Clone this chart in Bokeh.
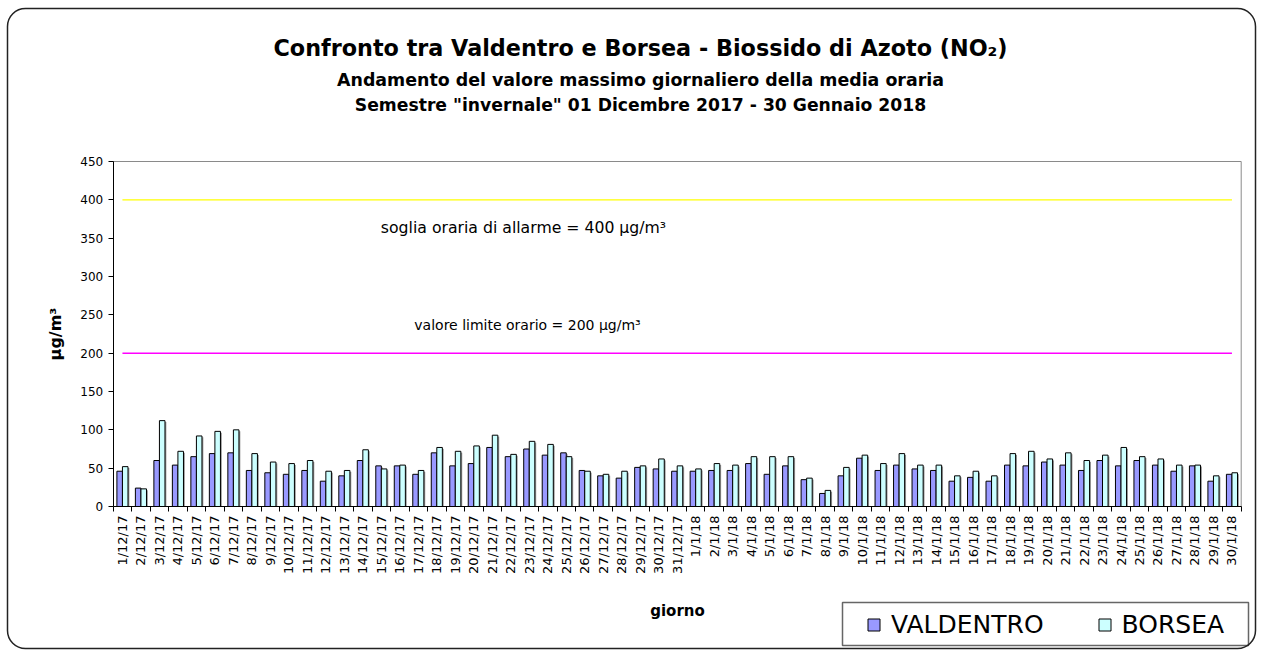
import numpy as np
from bokeh.plotting import figure
from bokeh.models import (Range1d, FixedTicker, Legend, LegendItem, Label,
                          ColumnDataSource, BoxAnnotation)
from bokeh.transform import dodge
from bokeh.embed import file_html
from bokeh.resources import INLINE

# ---------------- data ----------------
giorni = ["1/12/17", "2/12/17", "3/12/17", "4/12/17", "5/12/17", "6/12/17", "7/12/17",
          "8/12/17", "9/12/17", "10/12/17", "11/12/17", "12/12/17", "13/12/17", "14/12/17",
          "15/12/17", "16/12/17", "17/12/17", "18/12/17", "19/12/17", "20/12/17", "21/12/17",
          "22/12/17", "23/12/17", "24/12/17", "25/12/17", "26/12/17", "27/12/17", "28/12/17",
          "29/12/17", "30/12/17", "31/12/17",
          "1/1/18", "2/1/18", "3/1/18", "4/1/18", "5/1/18", "6/1/18", "7/1/18", "8/1/18",
          "9/1/18", "10/1/18", "11/1/18", "12/1/18", "13/1/18", "14/1/18", "15/1/18",
          "16/1/18", "17/1/18", "18/1/18", "19/1/18", "20/1/18", "21/1/18", "22/1/18",
          "23/1/18", "24/1/18", "25/1/18", "26/1/18", "27/1/18", "28/1/18", "29/1/18",
          "30/1/18"]

valdentro = [46, 24, 60, 54, 65, 69, 70, 47, 44, 42, 47, 33, 40, 60, 53, 53, 42, 70, 53, 56,
             77, 65, 75, 67, 70, 47, 40, 37, 51, 49, 46,
             46, 47, 47, 56, 42, 53, 35, 17, 40, 63, 47, 54, 49, 47, 33, 38, 33, 54, 53,
             58, 54, 47, 60, 53, 60, 54, 46, 53, 33, 42]

borsea = [52, 23, 112, 72, 92, 98, 100, 69, 58, 56, 60, 46, 47, 74, 49, 54, 47, 77, 72, 79,
          93, 68, 85, 81, 65, 46, 42, 46, 53, 62, 53,
          49, 56, 54, 65, 65, 65, 37, 21, 51, 67, 56, 69, 54, 54, 40, 46, 40, 69, 72,
          62, 70, 60, 67, 77, 65, 62, 54, 54, 40, 44]

soglia_allarme = 400
valore_limite = 200
y_ticks = [0, 50, 100, 150, 200, 250, 300, 350, 400, 450]

titolo = "Confronto tra Valdentro e Borsea - Biossido di Azoto (NO₂)"
sottotitolo1 = "Andamento del valore massimo giornaliero della media oraria"
sottotitolo2 = 'Semestre "invernale" 01 Dicembre 2017 - 30 Gennaio 2018'

FONT = "DejaVu Sans"

# ---------------- layout geometry (canvas pixels) ----------------
W, H = 1262, 654
PLOT_L, PLOT_R = 112.7, 1240.7      # plot area, from left
PLOT_T, PLOT_B = 161.0, 506.0       # plot area, from top

n = len(giorni)
pos = list(range(1, n + 1))
x_lo, x_hi = 0.5, n + 0.5
y_lo, y_hi = y_ticks[0], y_ticks[-1]
ux = (x_hi - x_lo) / (PLOT_R - PLOT_L)
uy = (y_hi - y_lo) / (PLOT_B - PLOT_T)
xr = Range1d(x_lo - PLOT_L * ux, x_hi + (W - PLOT_R) * ux)
yr = Range1d(y_lo - (H - PLOT_B) * uy, y_hi + PLOT_T * uy)


def sx(px):          # canvas x (from left) -> screen units
    return px


def sy(py):          # canvas y (from top) -> screen units (from bottom)
    return H - py


SH = 1.4   # bar shadow offset, pixels
src = ColumnDataSource(dict(x=pos, v=valdentro, b=borsea,
                            vs=[max(v - SH * uy, 0) for v in valdentro],
                            bs=[max(b - SH * uy, 0) for b in borsea]))

p = figure(width=W, height=H, output_backend="svg", toolbar_location=None,
           title=None, x_range=xr, y_range=yr, min_border=0,
           min_border_left=0, min_border_right=0, min_border_top=0, min_border_bottom=0)

p.background_fill_color = "white"
p.border_fill_color = "white"
p.outline_line_color = None
p.xgrid.visible = False
p.ygrid.visible = False

# plot-area border (grey, top and right)
p.segment(x0=[x_lo, x_hi], y0=[y_hi, y_lo], x1=[x_hi, x_hi], y1=[y_hi, y_hi],
          line_color="#8a8a8a", line_width=1)

# bar shadows
for off, col in [(-0.15, "vs"), (0.15, "bs")]:
    p.vbar(x=dodge("x", off + SH * ux), top=col, width=0.3, source=src,
           fill_color="#9a9a9a", line_color=None)

# bars
rv = p.vbar(x=dodge("x", -0.15), top="v", width=0.3, source=src,
            fill_color="#9999FF", line_color="black", line_width=1)
rb = p.vbar(x=dodge("x", 0.15), top="b", width=0.3, source=src,
            fill_color="#CCFFFF", line_color="black", line_width=1)

# threshold lines
p.line(x=[pos[0], pos[-1]], y=[soglia_allarme, soglia_allarme], line_color="#FFFF00", line_width=1.2)
p.line(x=[pos[0], pos[-1]], y=[valore_limite, valore_limite], line_color="#FF00FF", line_width=1.5)

p.add_layout(Label(x=sx(523), y=sy(227), x_units="screen", y_units="screen",
                   text="soglia oraria di allarme = %d µg/m³" % soglia_allarme,
                   text_align="center", text_baseline="middle",
                   text_font=FONT, text_font_size="15.7px", text_color="black"))
p.add_layout(Label(x=sx(527), y=sy(324), x_units="screen", y_units="screen",
                   text="valore limite orario = %d µg/m³" % valore_limite,
                   text_align="center", text_baseline="middle",
                   text_font=FONT, text_font_size="14px", text_color="black"))

# titles
for txt, size, cy in [(titolo, "22.3px", 47), (sottotitolo1, "17.4px", 79), (sottotitolo2, "17.2px", 104)]:
    p.add_layout(Label(x=sx(640), y=sy(cy), x_units="screen", y_units="screen",
                       text=txt, text_align="center", text_baseline="middle",
                       text_font=FONT, text_font_size=size, text_font_style="bold",
                       text_color="black"))

# axes
xa = p.xaxis[0]
xa.fixed_location = 0
xa.bounds = (x_lo, x_hi)
xa.ticker = FixedTicker(ticks=pos, minor_ticks=[i + 0.5 for i in range(n + 1)])
xa.major_label_overrides = {i: g for i, g in zip(pos, giorni)}
xa.major_tick_line_color = None
xa.major_tick_in = 0
xa.major_tick_out = 5
xa.minor_tick_in = 0
xa.minor_tick_out = 5
xa.minor_tick_line_color = "black"
xa.major_label_orientation = np.pi / 2
xa.major_label_standoff = 4
xa.major_label_text_font = FONT
xa.major_label_text_font_size = "13px"
xa.major_label_text_color = "black"
xa.axis_line_color = "black"
xa.axis_label = "giorno"
xa.axis_label_text_font = FONT
xa.axis_label_text_font_size = "15px"
xa.axis_label_text_font_style = "bold"
xa.axis_label_text_color = "black"
xa.axis_label_standoff = 25

ya = p.yaxis[0]
ya.fixed_location = x_lo
ya.bounds = (y_lo, y_hi)
ya.ticker = FixedTicker(ticks=y_ticks)
ya.minor_tick_line_color = None
ya.major_tick_in = 0
ya.major_tick_out = 5
ya.major_tick_line_color = "black"
ya.axis_line_color = "black"
ya.major_label_text_font = FONT
ya.major_label_text_font_size = "12px"
ya.major_label_text_color = "black"
ya.major_label_standoff = 5
ya.axis_label = "µg/m³"
ya.axis_label_text_font = FONT
ya.axis_label_text_font_size = "16px"
ya.axis_label_text_font_style = "bold"
ya.axis_label_text_color = "black"
ya.axis_label_standoff = 13

# legend box
p.add_layout(BoxAnnotation(left=sx(842), right=sx(1248), bottom=sy(645), top=sy(602),
                           left_units="screen", right_units="screen",
                           bottom_units="screen", top_units="screen",
                           fill_color="white", fill_alpha=1,
                           line_color="#666666", line_alpha=1, line_width=1.5))

legend = Legend(items=[LegendItem(label="VALDENTRO", renderers=[rv]),
                       LegendItem(label="BORSEA", renderers=[rb])],
                location=(sx(866), sy(638.5)), orientation="horizontal",
                label_text_font=FONT, label_text_font_size="25px",
                label_text_color="black",
                glyph_width=15, glyph_height=15, label_standoff=10, spacing=53,
                padding=8, margin=0,
                border_line_color=None, background_fill_alpha=0)
p.add_layout(legend)

# outer rounded frame
p.add_layout(BoxAnnotation(left=sx(7), right=sx(1255), bottom=sy(648), top=sy(8),
                           left_units="screen", right_units="screen",
                           bottom_units="screen", top_units="screen",
                           fill_color=None, line_color="#222222", line_alpha=1,
                           line_width=1.5, border_radius=18))

open("out.html", "w").write(file_html(p, INLINE))
